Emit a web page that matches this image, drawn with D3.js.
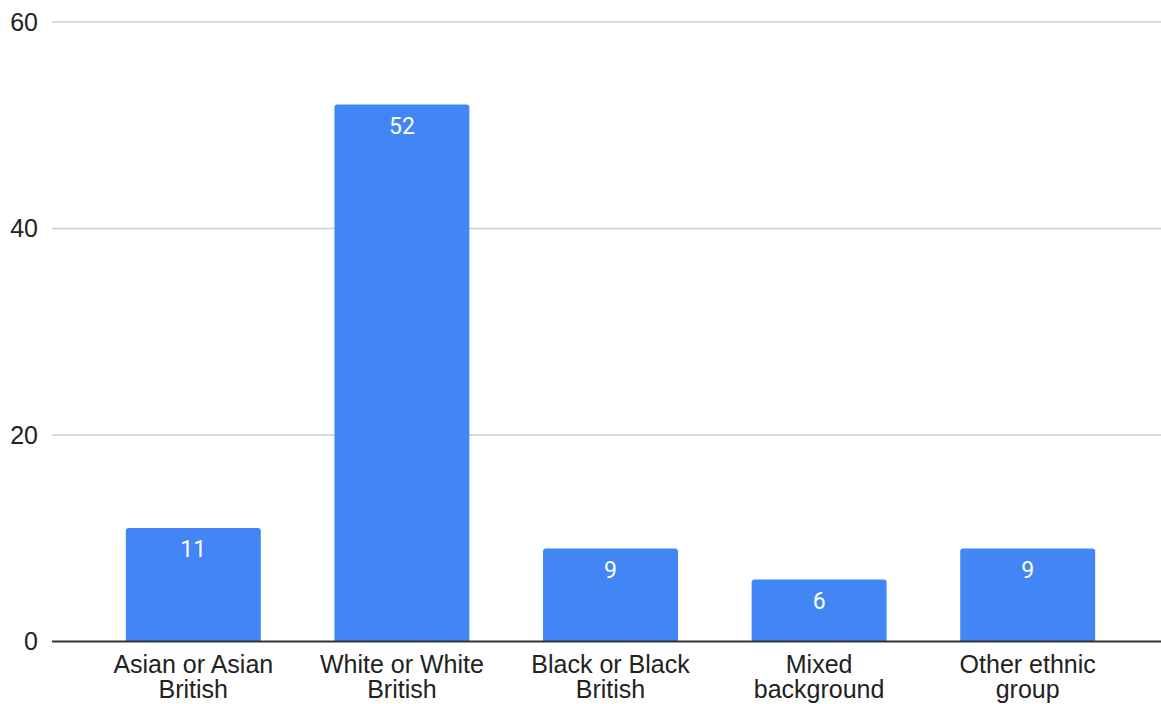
<!DOCTYPE html>
<html>
<head>
<meta charset="utf-8">
<script src="https://cdn.jsdelivr.net/npm/d3@7"></script>
<style>
  html, body { margin: 0; padding: 0; background: #fff; }
  svg { display: block; }
</style>
</head>
<body>
<svg id="chart" width="1161" height="704"></svg>
<script>
// Survey respondents by ethnic group
const categories = [
  ["Asian or Asian", "British"],
  ["White or White", "British"],
  ["Black or Black", "British"],
  ["Mixed", "background"],
  ["Other ethnic", "group"]
];
const values = [11, 52, 9, 6, 9];
const yTicks = [0, 20, 40, 60];

const svg = d3.select("#chart");
const plotLeft = 52, plotRight = 1161;
const yTop = 22, yBottom = 641.5;
const labelFont = "'Liberation Sans', Arial, sans-serif";

const keys = categories.map(c => c.join(" "));
const x = d3.scaleBand()
  .domain(keys)
  .range([89, 1132])
  .paddingInner(0.353)
  .paddingOuter(0.1765);

const y = d3.scaleLinear().domain([0, 60]).range([yBottom, yTop]);

// gridlines
svg.append("g")
  .selectAll("line")
  .data(yTicks.filter(t => t !== 0))
  .join("line")
  .attr("x1", plotLeft).attr("x2", plotRight)
  .attr("y1", d => y(d)).attr("y2", d => y(d))
  .attr("stroke", "#cccccc").attr("stroke-width", 1.3);

// y tick labels
svg.append("g")
  .selectAll("text")
  .data(yTicks)
  .join("text")
  .attr("x", 38)
  .attr("y", d => y(d) + 8.5)
  .attr("text-anchor", "end")
  .attr("font-family", labelFont)
  .attr("font-size", 25)
  .attr("fill", "#222")
  .text(d => d);

// bars with rounded top corners
const r = 3;
svg.append("g")
  .selectAll("path")
  .data(values)
  .join("path")
  .attr("fill", "#4285f4")
  .attr("d", (d, i) => {
    const x0 = x(keys[i]), w = x.bandwidth();
    const top = y(d), bot = y(0);
    return `M${x0},${bot} L${x0},${top + r} Q${x0},${top} ${x0 + r},${top}` +
      ` L${x0 + w - r},${top} Q${x0 + w},${top} ${x0 + w},${top + r} L${x0 + w},${bot} Z`;
  });

// value labels inside bars
svg.append("g")
  .selectAll("text")
  .data(values)
  .join("text")
  .attr("x", (d, i) => x(keys[i]) + x.bandwidth() / 2)
  .attr("y", d => y(d) + 29)
  .attr("text-anchor", "middle")
  .attr("font-family", "Roboto, sans-serif")
  .attr("font-size", 23)
  .attr("fill", "#ffffff")
  .text(d => d);

// baseline
svg.append("line")
  .attr("x1", plotLeft).attr("x2", plotRight)
  .attr("y1", y(0)).attr("y2", y(0))
  .attr("stroke", "#333333").attr("stroke-width", 2);

// category labels, two lines each
const labels = svg.append("g")
  .selectAll("text")
  .data(categories)
  .join("text")
  .attr("x", (d, i) => x(keys[i]) + x.bandwidth() / 2)
  .attr("text-anchor", "middle")
  .attr("font-family", labelFont)
  .attr("font-size", 25)
  .attr("fill", "#222");
labels.selectAll("tspan")
  .data(d => d)
  .join("tspan")
  .attr("x", function () { return d3.select(this.parentNode).attr("x"); })
  .attr("y", (d, j) => 673 + j * 25)
  .text(d => d);
</script>
</body>
</html>
